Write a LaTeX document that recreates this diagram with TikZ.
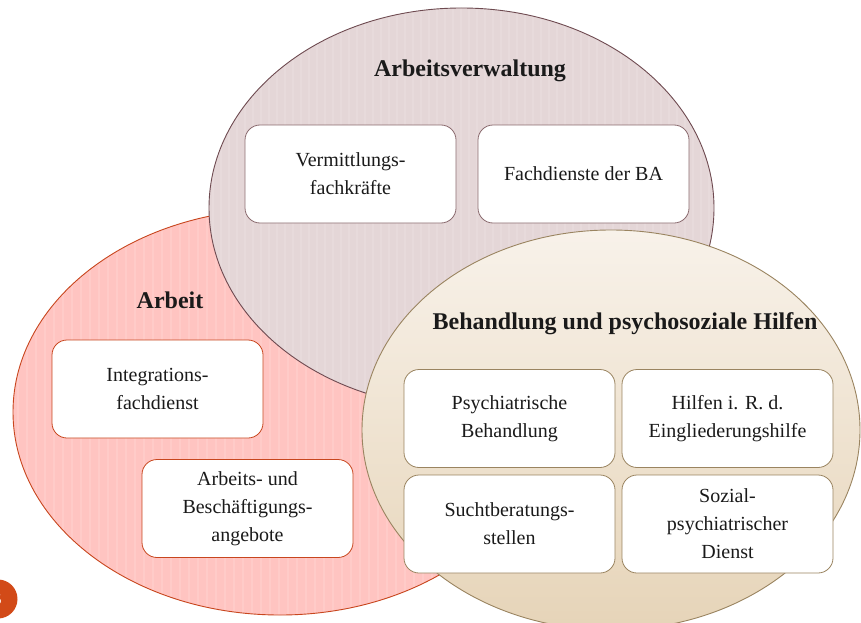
\documentclass[tikz,border=0pt]{standalone}
\usepackage{fontspec}
\setmainfont{Liberation Serif}
\setsansfont{Liberation Sans}
\definecolor{pinkfill}{HTML}{FFC4C1}
\definecolor{pinkline}{HTML}{C8461E}
\definecolor{mauvefill}{HTML}{E4D6D7}
\definecolor{mauveline}{HTML}{6E4A50}
\definecolor{mauvebox}{HTML}{8A6A6E}
\definecolor{beigetop}{HTML}{F8F2EA}
\definecolor{beigebot}{HTML}{E6D4B8}
\definecolor{beigeline}{HTML}{9A8460}
\definecolor{numorange}{HTML}{D24A18}
\definecolor{txt}{HTML}{1A1A1A}
\begin{document}
\begin{tikzpicture}[x=1pt,y=1pt,
  boxtxt/.style={rounded corners=15pt, fill=white, minimum width=211pt,
    minimum height=98pt, align=center, inner sep=0pt, text=txt,
    font=\fontsize{20}{28}\selectfont, line width=0.8pt},
  ttl/.style={font=\fontsize{24}{28}\selectfont\bfseries, anchor=base, text=txt},
  stripes/.style={white, opacity=0.12, line width=2pt}]
\useasboundingbox (0,0) rectangle (861,-623);
\clip (0,0) rectangle (861,-623);
\fill[white] (0,0) rectangle (861,-623);
% heading remnant
\node[font=\fontsize{40}{40}\selectfont\sffamily\bfseries, text=black!60, anchor=base] (head) at (122,9.5) {g};
% Arbeit ellipse
\begin{scope}
  \clip (280,-412) ellipse [x radius=267, y radius=203];
  \fill[pinkfill] (280,-412) ellipse [x radius=267, y radius=203];
  \foreach \i in {0,9,...,560} {\draw[stripes] (\i,-200) -- (\i,-623);}
\end{scope}
\draw[pinkline, line width=0.9pt] (280,-412) ellipse [x radius=267, y radius=203];
% Arbeitsverwaltung ellipse
\begin{scope}
  \clip (461.5,-208) ellipse [x radius=252.5, y radius=200];
  \fill[mauvefill] (461.5,-208) ellipse [x radius=252.5, y radius=200];
  \foreach \i in {205,213,...,720} {\draw[stripes] (\i,0) -- (\i,-420);}
\end{scope}
\draw[mauveline, line width=0.9pt] (461.5,-208) ellipse [x radius=252.5, y radius=200];
% Behandlung ellipse
\shade[top color=beigetop, bottom color=beigebot] (611,-430) ellipse [x radius=249, y radius=200];
\draw[beigeline, line width=0.9pt] (611,-430) ellipse [x radius=249, y radius=200];
% titles
\node[ttl] (tav) at (470,-77) {Arbeitsverwaltung};
\node[ttl] (tar) at (170,-308) {Arbeit};
\node[ttl] (tbh) at (625,-329) {Behandlung und psychosoziale Hilfen};
% boxes
\node[boxtxt, draw=mauvebox] (verm) at (350.5,-174) {Vermittlungs-\\fachkräfte};
\node[boxtxt, draw=mauvebox] (fach) at (583.5,-174) {Fachdienste der BA};
\node[boxtxt, draw=pinkline] (integ) at (157.5,-389) {Integrations-\\fachdienst};
\node[boxtxt, draw=pinkline] (besch) at (247.5,-508.5) {Arbeits- und\\Beschäftigungs-\\angebote};
\node[boxtxt, draw=beigeline] (psych) at (509.5,-418.5) {Psychiatrische\\Behandlung};
\node[boxtxt, draw=beigeline] (hilf) at (727.5,-418.5) {Hilfen i. R. d.\\Eingliederungshilfe};
\node[boxtxt, draw=beigeline] (sucht) at (509.5,-524) {Suchtberatungs-\\stellen};
\node[boxtxt, draw=beigeline] (sozial) at (727.5,-524) {Sozial-\\psychiatrischer\\Dienst};
% slide number
\fill[numorange] (-2,-599) circle (19.5);
\node[text=white, font=\fontsize{15}{15}\selectfont] (num) at (-2,-600) {5};
\end{tikzpicture}
\end{document}
